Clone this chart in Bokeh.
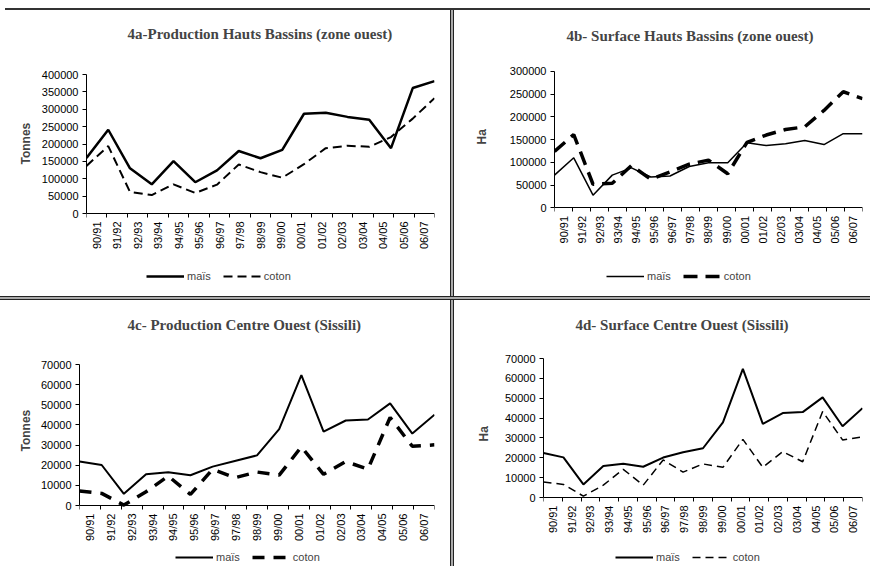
import math
from bokeh.plotting import figure
from bokeh.models import (Range1d, FixedTicker, BasicTickFormatter, Legend, LegendItem,
                          LinearAxis, CustomJSTickFormatter, Div, Title)
from bokeh.layouts import column, row
from bokeh.embed import file_html
from bokeh.resources import INLINE

seasons = ["90/91", "91/92", "92/93", "93/94", "94/95", "95/96", "96/97", "97/98", "98/99",
           "99/00", "00/01", "01/02", "02/03", "03/04", "04/05", "05/06", "06/07"]

# 4a - Production Hauts Bassins (tonnes)
a_mais = [160000, 241000, 130000, 84000, 151000, 90000, 124000, 180000, 159000, 183000,
          287000, 290000, 278000, 270000, 188000, 361000, 381000]
a_coton = [137000, 194000, 62000, 53000, 84000, 59000, 83000, 141000, 119000, 103000,
           142000, 188000, 195000, 192000, 220000, 273000, 332000]

# 4b - Surface Hauts Bassins (ha)
b_mais = [72000, 110000, 28000, 72000, 88000, 68000, 70000, 91000, 99000, 99000,
          143000, 137000, 141000, 148000, 139000, 163000, 163000]
b_coton = [124000, 161000, 52000, 54000, 93000, 63000, 79000, 96000, 105000, 75000,
           144000, 160000, 172000, 178000, 214000, 255000, 240000]

# 4c - Production Centre Ouest (tonnes)
c_mais = [21800, 20100, 5800, 15500, 16500, 15000, 19300, 22100, 24900, 37900,
          64700, 36700, 42200, 42700, 50700, 35700, 45100]
c_coton = [7200, 6000, 200, 6800, 14600, 5500, 18000, 13800, 16600, 15100,
           29100, 15500, 21800, 18100, 43700, 29400, 30100]

# 4d - Surface Centre Ouest (ha)
d_mais = [22400, 20200, 6600, 15900, 17000, 15500, 20100, 22800, 24800, 37800,
          64800, 37100, 42500, 43000, 50400, 35900, 45000]
d_coton = [7800, 6600, 700, 6200, 14200, 6200, 18900, 12800, 16900, 15200,
           29300, 15200, 23100, 18000, 43300, 29000, 30500]

SANS = "Liberation Sans"
SERIF = "Liberation Serif"


def panel(title, ylabel, ymax, ystep, mais, coton, w, h, left, right, frame_top, max_px, zero_px,
          mais_w, coton_w, coton_dash, title_offset, ylab_standoff, ylab_offset, legend_loc):
    n = len(seasons)
    xs = list(range(n))
    bottom = 2
    frame_bottom = h - bottom
    # the frame is extended above the top tick and below zero (title / legend room)
    per_px = ymax / (zero_px - max_px)
    y_lo = -(frame_bottom - zero_px) * per_px
    y_hi = ymax + (max_px - frame_top) * per_px
    p = figure(width=w, height=h, output_backend="svg", toolbar_location=None,
               x_range=Range1d(0, n - 1), y_range=Range1d(y_lo, y_hi),
               min_border_left=left, min_border_right=right, min_border_top=frame_top,
               min_border_bottom=bottom, title=title)
    p.outline_line_color = None
    p.grid.visible = False

    p.title.text_font = SERIF
    p.title.text_font_style = "bold"
    p.title.text_font_size = "15px"
    p.title.align = "left"
    p.title.offset = title_offset
    p.title.standoff = frame_top - 19

    # y axis
    yax = p.yaxis[0]
    yax.bounds = (0, ymax)
    yax.ticker = FixedTicker(ticks=list(range(0, ymax + 1, ystep)))
    yax.formatter = BasicTickFormatter(use_scientific=False)
    yax.major_label_text_font = SANS
    yax.major_label_text_font_size = "11px"
    yax.major_label_text_color = "black"
    yax.major_label_standoff = 4
    yax.major_tick_out = 4
    yax.major_tick_in = 0
    yax.minor_tick_line_color = None
    yax.axis_line_color = "black"
    yax.major_tick_line_color = "black"

    ylab = Title(text=ylabel, align="left", offset=ylab_offset, standoff=ylab_standoff,
                 text_font=SANS, text_font_style="bold", text_font_size="12px")
    p.add_layout(ylab, "left")

    # x axis at y = 0: ticks between seasons, labels centred in each interval
    step = (n - 1) / n
    bounds = [k * step for k in range(n + 1)]
    centers = [(k + 0.5) * step for k in range(n)]
    xax = p.xaxis[0]
    xax.fixed_location = 0
    xax.ticker = FixedTicker(ticks=bounds)
    xax.formatter = CustomJSTickFormatter(code="return ''")
    xax.major_label_standoff = 0
    xax.major_tick_out = 4
    xax.major_tick_in = 0
    xax.minor_tick_line_color = None
    xax.axis_line_color = "black"
    xax.major_tick_line_color = "black"

    lax = LinearAxis(ticker=FixedTicker(ticks=centers), fixed_location=0,
                     formatter=CustomJSTickFormatter(args=dict(labels=seasons),
                                                     code="return labels[index]"))
    lax.axis_line_color = None
    lax.major_tick_line_color = None
    lax.minor_tick_line_color = None
    lax.major_tick_out = 0
    lax.major_tick_in = 0
    lax.major_label_orientation = math.pi / 2
    lax.major_label_text_font = SANS
    lax.major_label_text_font_size = "11px"
    lax.major_label_text_color = "black"
    lax.major_label_standoff = 8
    p.add_layout(lax, "below")

    r1 = p.line(xs, mais, line_color="black", line_width=mais_w)
    r2 = p.line(xs, coton, line_color="black", line_width=coton_w, line_dash=coton_dash)

    leg = Legend(items=[LegendItem(label="maïs", renderers=[r1]),
                        LegendItem(label="coton", renderers=[r2])],
                 orientation="horizontal", location=legend_loc,
                 border_line_color=None, background_fill_alpha=0,
                 label_text_font=SANS, label_text_font_size="11px",
                 glyph_width=38, glyph_height=14, label_standoff=3, spacing=12,
                 padding=0, margin=0)
    p.add_layout(leg)
    return p


pa = panel("4a-Production Hauts Bassins (zone ouest)", "Tonnes", 400000, 50000, a_mais, a_coton,
           450, 286, 86, 16, 44, 64, 203, 2.5, 2, "9 5", 41, 12, 130, (60, 11))
pb = panel("4b- Surface Hauts Bassins (zone ouest)", "Ha", 300000, 50000, b_mais, b_coton,
           416, 286, 97, 8, 40, 57, 196, 1.5, 3.5, "14 8", 12, 36, 150, (52, 11))
pc = panel("4c- Production Centre Ouest (Sissili)", "Tonnes", 70000, 10000, c_mais, c_coton,
           450, 266, 79, 16, 46, 64, 205, 2, 3.5, "12 9", 48, 10, 113, (96, 0))
pd_ = panel("4d- Surface Centre Ouest (Sissili)", "Ha", 70000, 10000, d_mais, d_coton,
            416, 266, 89, 8, 46, 58, 197, 2, 1.5, "8 5", 32, 22, 123, (72, 0))

top_line = Div(text="", width=865, height=2, margin=(8, 0, 0, 5),
               styles={"background-color": "#333"})
mid_line = Div(text="", width=870, height=4, margin=0,
               styles={"background-color": "#aaa", "border-top": "1px solid #222",
                       "border-bottom": "1px solid #222", "box-sizing": "border-box"})
v1 = Div(text="", width=4, height=286, margin=0,
         styles={"background-color": "#aaa", "border-left": "1px solid #222",
                 "border-right": "1px solid #222", "box-sizing": "border-box"})
v2 = Div(text="", width=4, height=266, margin=0,
         styles={"background-color": "#aaa", "border-left": "1px solid #222",
                 "border-right": "1px solid #222", "box-sizing": "border-box"})

layout = column(top_line, row(pa, v1, pb, spacing=0), mid_line, row(pc, v2, pd_, spacing=0),
                spacing=0)

open("out.html", "w").write(file_html(layout, INLINE))
